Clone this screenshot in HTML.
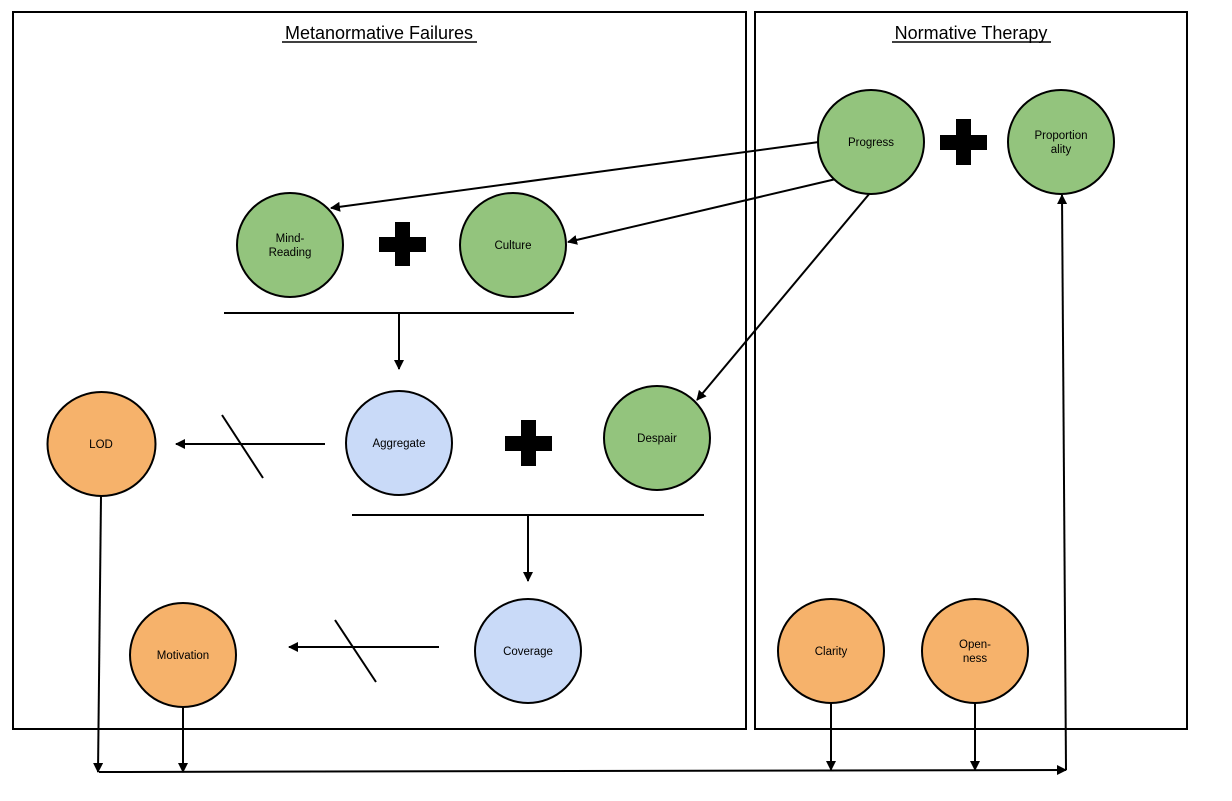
<!DOCTYPE html>
<html><head><meta charset="utf-8"><style>
html,body{margin:0;padding:0;background:#fff;}
svg{display:block;font-family:"Liberation Sans",Arial,sans-serif;}
</style></head><body>
<svg width="1232" height="801" viewBox="0 0 1232 801" xmlns="http://www.w3.org/2000/svg">
<defs>
<marker id="a" markerWidth="10" markerHeight="10" refX="9" refY="5" orient="auto" markerUnits="userSpaceOnUse">
<path d="M0,0 L10,5 L0,10 z" fill="#000"/>
</marker>
</defs>
<g fill="none" stroke="#000" stroke-width="2">
<rect x="13" y="12" width="733" height="717"/>
<rect x="755" y="12" width="432" height="717"/>
</g>
<g font-size="18" text-anchor="middle" fill="#000">
<text x="379" y="39">Metanormative Failures</text>
<text x="971" y="39">Normative Therapy</text>
</g>
<g stroke="#000" stroke-width="1.5">
<line x1="282" y1="42" x2="477" y2="42"/>
<line x1="892" y1="42" x2="1051" y2="42"/>
</g>
<g stroke="#000" stroke-width="2" fill="none">
<line x1="819" y1="142" x2="331" y2="208" marker-end="url(#a)"/>
<line x1="836" y1="179" x2="568" y2="242" marker-end="url(#a)"/>
<line x1="870" y1="193" x2="697" y2="400" marker-end="url(#a)"/>
<line x1="224" y1="313" x2="574" y2="313"/>
<line x1="399" y1="313" x2="399" y2="369" marker-end="url(#a)"/>
<line x1="352" y1="515" x2="704" y2="515"/>
<line x1="528" y1="515" x2="528" y2="581" marker-end="url(#a)"/>
<line x1="325" y1="444" x2="176" y2="444" marker-end="url(#a)"/>
<line x1="222" y1="415" x2="263" y2="478"/>
<line x1="439" y1="647" x2="289" y2="647" marker-end="url(#a)"/>
<line x1="335" y1="620" x2="376" y2="682"/>
<line x1="101" y1="496" x2="98" y2="772" marker-end="url(#a)"/>
<line x1="183" y1="707" x2="183" y2="772" marker-end="url(#a)"/>
<line x1="831" y1="703" x2="831" y2="770" marker-end="url(#a)"/>
<line x1="975" y1="703" x2="975" y2="770" marker-end="url(#a)"/>
<line x1="99" y1="772" x2="1066" y2="770" marker-end="url(#a)"/>
<line x1="1066" y1="770" x2="1062" y2="195" marker-end="url(#a)"/>
</g>
<g stroke="#000" stroke-width="2">
<ellipse cx="871" cy="142" rx="53" ry="52" fill="#93c47d"/>
<ellipse cx="1061" cy="142" rx="53" ry="52" fill="#93c47d"/>
<ellipse cx="290" cy="245" rx="53" ry="52" fill="#93c47d"/>
<ellipse cx="513" cy="245" rx="53" ry="52" fill="#93c47d"/>
<ellipse cx="657" cy="438" rx="53" ry="52" fill="#93c47d"/>
<ellipse cx="399" cy="443" rx="53" ry="52" fill="#c9daf8"/>
<ellipse cx="528" cy="651" rx="53" ry="52" fill="#c9daf8"/>
<ellipse cx="101.5" cy="444" rx="54" ry="52" fill="#f6b26b"/>
<ellipse cx="183" cy="655" rx="53" ry="52" fill="#f6b26b"/>
<ellipse cx="831" cy="651" rx="53" ry="52" fill="#f6b26b"/>
<ellipse cx="975" cy="651" rx="53" ry="52" fill="#f6b26b"/>
</g>
<g fill="#000">
<rect x="956" y="119" width="15" height="46"/><rect x="940" y="135" width="47" height="15"/>
<rect x="395" y="222" width="15" height="44"/><rect x="379" y="237" width="47" height="15"/>
<rect x="521" y="420" width="15" height="46"/><rect x="505" y="436" width="47" height="15"/>
</g>
<g font-size="11.5" text-anchor="middle" fill="#000">
<text x="871" y="146">Progress</text>
<text x="1061" y="139">Proportion</text><text x="1061" y="153">ality</text>
<text x="290" y="242">Mind-</text><text x="290" y="256">Reading</text>
<text x="513" y="249">Culture</text>
<text x="657" y="442">Despair</text>
<text x="399" y="447">Aggregate</text>
<text x="528" y="655">Coverage</text>
<text x="101" y="448">LOD</text>
<text x="183" y="659">Motivation</text>
<text x="831" y="655">Clarity</text>
<text x="975" y="648">Open-</text><text x="975" y="662">ness</text>
</g>
</svg>
</body></html>
